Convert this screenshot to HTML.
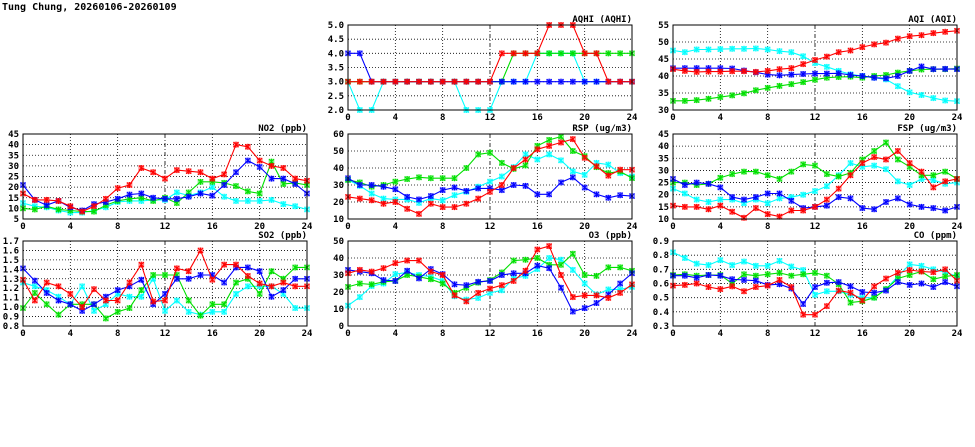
<!DOCTYPE html>
<html><head><meta charset="utf-8"><style>
html,body{margin:0;padding:0;background:#fff;}
svg{display:block;}
text{font-family:"DejaVu Sans Mono","Liberation Mono",monospace;font-size:9px;font-weight:bold;fill:#000;}
</style></head><body>
<svg id="s" width="975" height="447" xmlns="http://www.w3.org/2000/svg">
<text x="2" y="10" style="font-size:10px">Tung Chung, 20260106-20260109</text>
</svg>
<script>
const S=document.getElementById('s');const NS='http://www.w3.org/2000/svg';
function el(t,a,txt){const e=document.createElementNS(NS,t);for(const k in a)e.setAttribute(k,a[k]);if(txt!==undefined)e.textContent=txt;S.appendChild(e);return e;}
const C={c:'#00ffff',g:'#00e000',b:'#0000ff',r:'#ff0000'};
const P=[
{x:348,y:25,t:'AQHI (AQHI)',min:2,max:5,step:0.5,dec:1,d:{
c:[3,2,2,3,3,3,3,3,3,3,2,2,2,3,3,3,4,4,4,4,3,3,3,3,3],
g:[3,3,3,3,3,3,3,3,3,3,3,3,3,3,4,4,4,4,4,4,4,4,4,4,4],
b:[4,4,3,3,3,3,3,3,3,3,3,3,3,3,3,3,3,3,3,3,3,3,3,3,3],
r:[3,3,3,3,3,3,3,3,3,3,3,3,3,4,4,4,4,5,5,5,4,4,3,3,3]}},
{x:673,y:25,t:'AQI (AQI)',min:30,max:55,step:5,dec:0,d:{
c:[47.5,47,47.8,47.8,47.9,48,48,48.1,47.8,47.3,47,45.8,43.8,42.7,41.5,40.5,40,39.5,39,37,35.2,34.4,33.5,32.8,32.6],
g:[32.7,32.7,32.9,33.3,33.8,34.3,34.9,35.8,36.5,37.1,37.6,38.2,38.9,39.5,39.7,39.8,39.5,40,40.3,41,41.5,41.9,42,42,42.2],
b:[42.3,42.3,42.3,42.3,42.3,42.2,41.6,41.1,40.4,40.2,40.4,40.6,40.7,40.7,40.8,40.3,40,39.5,39.3,40,41.5,42.8,42,42.1,42],
r:[42,41.5,41.2,41.3,41.3,41.4,41.4,41.2,41.5,42,42.3,43.5,44.7,45.7,47,47.5,48.5,49.3,49.8,51,51.7,52,52.6,53,53.3]}},
{x:23,y:134,t:'NO2 (ppb)',min:5,max:45,step:5,dec:0,d:{
c:[12.5,11,10.5,9,8,8,9,10.5,13,13.5,13.5,14,14,17.5,16,17.5,20,15.5,13.5,13.5,13.5,14,12,11,9.5],
g:[10,9.5,11,9.5,9,8.5,8.5,11.5,13.5,14.5,15,13.5,15,12.5,17.5,22.5,22.5,22,20.5,18,17,32,21.5,22,21],
b:[21,14,11.5,13.5,10.5,9,12,13,14.5,16.5,17,15,14.5,14.5,15.5,17,16,21,27,32.5,29.5,24,24,21.5,17],
r:[17,14,14,13.5,11,8.5,11,14.5,19.5,21,29,27,24,28,27.5,27,24,26,40,39,32.5,30,29,24,23]}},
{x:348,y:134,t:'RSP (ug/m3)',min:10,max:60,step:10,dec:0,d:{
c:[33,29.5,25,22,21.5,21.5,19.5,22,21,24,26,29,32,35,40.5,48,45,48,44.5,38,36,43,42,37,35],
g:[33,31.5,29,30,32,33.5,34.5,34,34,34,40,48,49,43,39.5,41.5,53,56.5,58.5,50,47,40.5,37,38,34],
b:[34,30,30,29,27.5,23,21.5,23.5,27,28.5,26.5,28,28,27,30,29.5,24.5,24.5,31.5,34.5,28.5,24.5,22.5,24,23.5],
r:[23,22,21,19,20,16,13,19,17,17,19,22,26,30,40,45,51,53,55,57,46,41,35.5,39,39]}},
{x:673,y:134,t:'FSP (ug/m3)',min:10,max:45,step:5,dec:0,d:{
c:[22.5,20.5,18,17,18,18,16.5,18,16.5,18.5,19,20,21.5,23.5,28,33,31.5,32,30.5,25.5,24,26.5,26,24.5,25],
g:[25,25,24,24.5,27,28.5,29.5,29.5,28,26.5,29.5,32.5,32,28.5,27.5,29,34.5,38,41.5,34.5,31.5,28,28,29.5,26.5],
b:[26.5,24,25,24.5,23,19,18,19,20.5,20.5,17.5,14.5,15,15.5,19,18.5,14.5,14,17,18.5,16,15,14.5,13.5,15],
r:[15.5,15,15,14,15.5,13,10.5,14.5,12,11,13.5,13.5,15,18,22.5,28,33,35.5,34.5,38,33,29.5,23,25.5,26.5]}},
{x:23,y:241,t:'SO2 (ppb)',min:0.8,max:1.7,step:0.1,dec:1,d:{
c:[1.26,1.22,1.18,1.11,1.03,1.22,0.96,1.03,1.14,1.11,1.11,1.3,0.96,1.07,0.95,0.92,0.95,0.95,1.14,1.22,1.22,1.22,1.14,0.99,0.99],
g:[0.99,1.15,1.03,0.92,1.03,1.03,1.03,0.88,0.95,0.99,1.18,1.34,1.34,1.34,1.07,0.91,1.03,1.03,1.26,1.3,1.14,1.38,1.3,1.42,1.42],
b:[1.41,1.28,1.15,1.07,1.03,0.96,1.03,1.11,1.18,1.22,1.29,1.03,1.14,1.3,1.3,1.34,1.34,1.26,1.42,1.42,1.38,1.11,1.18,1.3,1.3],
r:[1.29,1.07,1.26,1.22,1.14,1.0,1.19,1.07,1.07,1.26,1.45,1.06,1.07,1.41,1.38,1.6,1.29,1.45,1.45,1.33,1.25,1.22,1.26,1.22,1.22]}},
{x:348,y:241,t:'O3 (ppb)',min:0,max:50,step:10,dec:0,d:{
c:[12,17,23.5,25,30.5,31.5,30,29,26.5,17.5,15.5,16.5,19.5,21,28,29.5,33.5,40,39,33,25,18.5,21.5,21.5,23],
g:[23,25,24.5,26,26.5,30,29,27.5,25,19.5,22.5,25.5,27,31.5,38.5,39,40,36,36,42.5,30,29.5,34.5,34.5,32.5],
b:[33,32,31,27,26.5,32.5,28,33.5,30.5,24.5,24,26,26.5,30,31,31,35.5,34,22.5,8.5,10.5,13.5,18.5,25,31],
r:[31,33,32,34,37,38.5,38.5,32,30,18,14.5,19.5,22,24,26.5,32.5,45,47,30,17,18,18,16.5,19.5,24.5]}},
{x:673,y:241,t:'CO (ppm)',min:0.3,max:0.9,step:0.1,dec:1,d:{
c:[.82,.78,.74,.73,.765,.73,.755,.725,.725,.76,.72,.695,.52,.545,.545,.52,.50,.50,.56,.65,.735,.725,.70,.68,.65],
g:[.66,.665,.655,.66,.66,.60,.665,.655,.665,.675,.655,.665,.675,.655,.595,.465,.475,.50,.56,.635,.66,.685,.63,.65,.66],
b:[.655,.655,.64,.66,.655,.63,.625,.62,.59,.595,.565,.455,.575,.605,.61,.58,.54,.535,.55,.61,.59,.60,.575,.61,.58],
r:[.585,.59,.60,.575,.56,.58,.545,.575,.585,.625,.575,.38,.38,.44,.55,.535,.48,.58,.635,.675,.695,.685,.68,.70,.62]}}
];
const W=284,H=85;
P.forEach(p=>{
 const X=h=>p.x+h*W/24, Y=v=>p.y+H-(v-p.min)/(p.max-p.min)*H;
 const n=Math.round((p.max-p.min)/p.step);
 for(let i=0;i<=n;i++){const v=p.min+i*p.step,y=Y(v);
  if(i>0&&i<n)el('line',{x1:p.x,x2:p.x+W,y1:y,y2:y,stroke:'#000','stroke-width':0.8,'stroke-dasharray':'1,2'});
  el('text',{x:p.x-4,y:y+3,'text-anchor':'end'},v.toFixed(p.dec));}
 for(let h=0;h<=24;h+=4){const x=X(h);
  if(h>0&&h<24)el('line',{x1:x,x2:x,y1:p.y,y2:p.y+H,stroke:'#000','stroke-width':0.8,'stroke-dasharray':h==12?'4,2,1,2':'1,2'});
  el('text',{x:x,y:p.y+H+10,'text-anchor':'middle'},h);}
 el('text',{x:p.x+W,y:p.y-3,'text-anchor':'end'},p.t);
 ['c','g','b','r'].forEach(k=>{const a=p.d[k];
  el('polyline',{points:a.map((v,i)=>X(i).toFixed(1)+','+Y(v).toFixed(1)).join(' '),fill:'none',stroke:C[k],'stroke-width':1.1});
  a.forEach((v,i)=>{const x=X(i),y=Y(v);
   el('rect',{x:x-2.5,y:y-2.5,width:5,height:5,fill:C[k],'fill-opacity':0.35,stroke:C[k],'stroke-width':0.6,'stroke-opacity':0.6});
   el('path',{d:`M${x-2.5},${y-2.5}L${x+2.5},${y+2.5}M${x-2.5},${y+2.5}L${x+2.5},${y-2.5}M${x},${y-3}L${x},${y+3}`,stroke:C[k],'stroke-width':1});});
 });
 el('rect',{x:p.x,y:p.y,width:W,height:H,fill:'none',stroke:'#000','stroke-width':1});
});
</script>
</body></html>
